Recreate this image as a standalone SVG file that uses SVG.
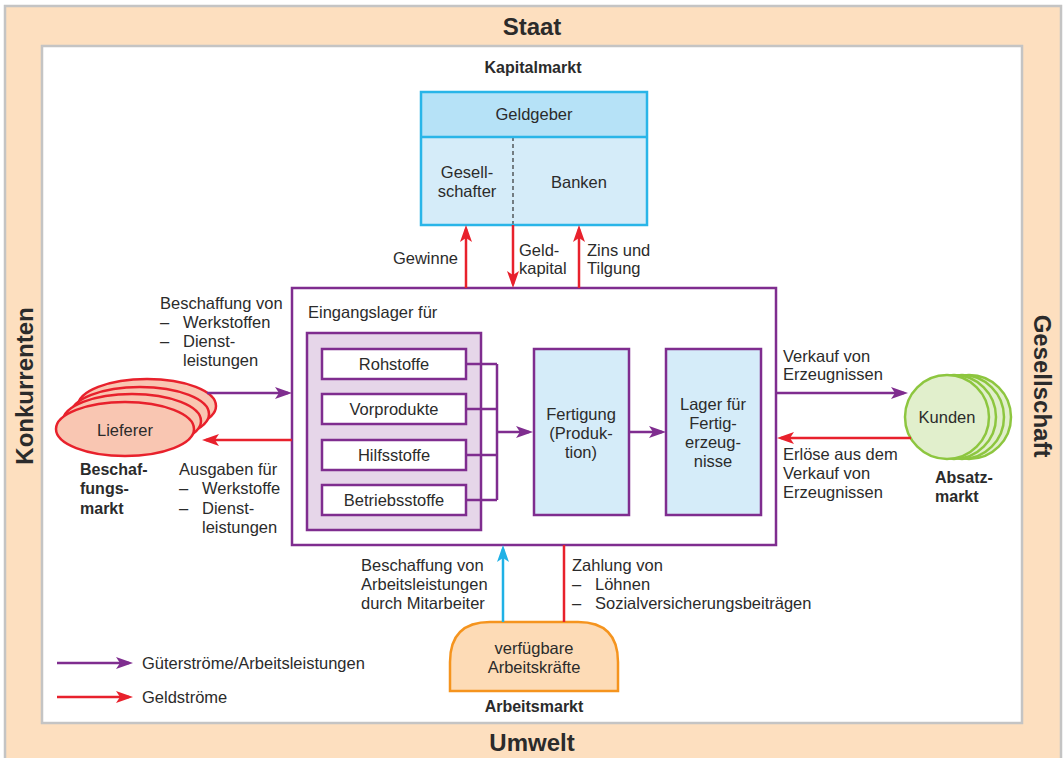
<svg xmlns="http://www.w3.org/2000/svg" width="1063" height="758" viewBox="0 0 1063 758">
<defs>
<style>
text{font-family:"Liberation Sans",Arial,sans-serif;font-size:16.5px;fill:#2b2b2b}
.b{font-weight:bold;font-size:16px}
.big{font-size:24px;font-weight:bold;fill:#2b2b2b}
.m{text-anchor:middle}
.r{text-anchor:end}
.pl{stroke:#7f2d8f;stroke-width:2.5;fill:none}
.rd{stroke:#e8212c;stroke-width:2.5;fill:none}
.bl{stroke:#1fb1e6;stroke-width:2.5;fill:none}
.box{stroke:#7f2d8f;stroke-width:2.5}
</style>
<marker id="ap" markerUnits="userSpaceOnUse" markerWidth="18" markerHeight="14" viewBox="0 0 18 14" refX="13" refY="7" orient="auto"><path d="M0,1 L17,7 L0,13 L4,7 Z" fill="#7f2d8f"/></marker>
<marker id="ar" markerUnits="userSpaceOnUse" markerWidth="18" markerHeight="14" viewBox="0 0 18 14" refX="13" refY="7" orient="auto"><path d="M0,1 L17,7 L0,13 L4,7 Z" fill="#e8212c"/></marker>
<marker id="ab" markerUnits="userSpaceOnUse" markerWidth="18" markerHeight="14" viewBox="0 0 18 14" refX="13" refY="7" orient="auto"><path d="M0,1 L17,7 L0,13 L4,7 Z" fill="#1fb1e6"/></marker>
</defs>

<g id="frame">
<rect x="5" y="6" width="1056" height="770" fill="#fddfbf" stroke="#c4c4c4" stroke-width="2.5"/>
<rect x="42" y="46" width="980" height="677" fill="#ffffff" stroke="#c4c4c4" stroke-width="2.5"/>
<text class="big m" x="532" y="35">Staat</text>
<text class="big m" x="532" y="751">Umwelt</text>
<text class="big m" transform="translate(33,386) rotate(-90)">Konkurrenten</text>
<text class="big m" transform="translate(1034,386) rotate(90)">Gesellschaft</text>
</g>

<g id="kapitalmarkt">
<text class="b m" x="533" y="73">Kapitalmarkt</text>
<rect x="421" y="137" width="226" height="88" fill="#d5ecf9"/>
<rect x="421" y="92" width="226" height="45" fill="#b6e2f7"/>
<line x1="513" y1="137" x2="513" y2="225" stroke="#333" stroke-width="1.2" stroke-dasharray="4,3"/>
<rect x="421" y="92" width="226" height="133" fill="none" stroke="#29b5e8" stroke-width="2.5"/>
<line x1="421" y1="137" x2="647" y2="137" stroke="#29b5e8" stroke-width="2.5"/>
<text class="m" x="534" y="120">Geldgeber</text>
<text class="m" x="467" y="178">Gesell-</text>
<text class="m" x="467" y="197">schafter</text>
<text class="m" x="579" y="188">Banken</text>
</g>

<g id="betrieb">
<rect x="292" y="288" width="484" height="257" fill="#ffffff" class="box"/>
<text x="308" y="318">Eingangslager für</text>
<rect x="307" y="333" width="174" height="197" fill="#e6d6e9" class="box"/>
</g>
<g id="rohstoffe"><rect x="322" y="349" width="144" height="30" fill="#fff" class="box"/><text class="m" x="394" y="370">Rohstoffe</text></g>
<g id="vorprodukte"><rect x="322" y="394" width="144" height="30" fill="#fff" class="box"/><text class="m" x="394" y="415">Vorprodukte</text></g>
<g id="hilfsstoffe"><rect x="322" y="440" width="144" height="30" fill="#fff" class="box"/><text class="m" x="394" y="461">Hilfsstoffe</text></g>
<g id="betriebsstoffe"><rect x="322" y="485" width="144" height="30" fill="#fff" class="box"/><text class="m" x="394" y="506">Betriebsstoffe</text></g>
<g id="fertigung"><rect x="534" y="349" width="95" height="166" fill="#d5ecf9" class="box"/>
<text class="m" x="581" y="420">Fertigung</text><text class="m" x="581" y="439">(Produk-</text><text class="m" x="581" y="458">tion)</text></g>
<g id="lager"><rect x="666" y="349" width="95" height="166" fill="#d5ecf9" class="box"/>
<text class="m" x="713" y="410">Lager für</text><text class="m" x="713" y="429">Fertig-</text><text class="m" x="713" y="448">erzeug-</text><text class="m" x="713" y="467">nisse</text></g>

<g id="lieferer">
<g fill="#f9c6b2" stroke="#e8212c" stroke-width="2.5">
<ellipse cx="147" cy="406" rx="69" ry="27"/>
<ellipse cx="140" cy="414" rx="69" ry="27"/>
<ellipse cx="132" cy="421" rx="69" ry="27"/>
<ellipse cx="125" cy="429" rx="69" ry="27"/>
</g>
<text class="m" x="125" y="436">Lieferer</text>
<text class="b" x="80" y="475">Beschaf-</text>
<text class="b" x="80" y="494">fungs-</text>
<text class="b" x="80" y="514">markt</text>
</g>

<g id="kunden">
<g fill="#e1efcc" stroke="#8dc63f" stroke-width="2.5">
<circle cx="969" cy="417" r="42"/>
<circle cx="962" cy="417" r="42"/>
<circle cx="954" cy="417" r="42"/>
<circle cx="947" cy="417" r="42"/>
</g>
<text class="m" x="947" y="423">Kunden</text>
<text class="b" x="935" y="483">Absatz-</text>
<text class="b" x="935" y="502">markt</text>
</g>

<g id="arbeitsmarkt">
<path d="M450,691 L450,662 Q450,622 490,622 L578,622 Q618,622 618,662 L618,691 Z" fill="#fddbb6" stroke="#f5941e" stroke-width="2.5"/>
<text class="m" x="534" y="654">verfügbare</text>
<text class="m" x="534" y="673">Arbeitskräfte</text>
<text class="b m" x="534" y="712">Arbeitsmarkt</text>
</g>

<g id="connectors">
<line class="rd" x1="466" y1="288" x2="466" y2="229" marker-end="url(#ar)"/>
<line class="rd" x1="513" y1="225" x2="513" y2="284" marker-end="url(#ar)"/>
<line class="rd" x1="579" y1="288" x2="579" y2="229" marker-end="url(#ar)"/>
<path class="pl" d="M466,364 H497 M466,409 H497 M466,455 H497 M466,500 H497 M497,364 V500"/>
<line class="pl" x1="497" y1="432" x2="529" y2="432" marker-end="url(#ap)"/>
<line class="pl" x1="629" y1="432" x2="662" y2="432" marker-end="url(#ap)"/>
<line class="pl" x1="207" y1="393" x2="288" y2="393" marker-end="url(#ap)"/>
<line class="rd" x1="292" y1="440" x2="206" y2="440" marker-end="url(#ar)"/>
<line class="pl" x1="776" y1="393" x2="904" y2="393" marker-end="url(#ap)"/>
<line class="rd" x1="911" y1="438" x2="781" y2="438" marker-end="url(#ar)"/>
<line class="bl" x1="503" y1="622" x2="503" y2="549" marker-end="url(#ab)"/>
<line class="rd" x1="564" y1="545" x2="564" y2="622"/>
<line class="pl" x1="57" y1="663" x2="129" y2="663" marker-end="url(#ap)"/>
<line class="rd" x1="57" y1="697" x2="129" y2="697" marker-end="url(#ar)"/>
</g>

<g id="labels">
<text class="r" x="458" y="264">Gewinne</text>
<text x="519" y="256">Geld-</text>
<text x="519" y="274">kapital</text>
<text x="587" y="256">Zins und</text>
<text x="587" y="274">Tilgung</text>
<text x="160" y="309">Beschaffung von</text>
<text x="160" y="328">–</text><text x="183" y="328">Werkstoffen</text>
<text x="160" y="347">–</text><text x="183" y="347">Dienst-</text>
<text x="183" y="366">leistungen</text>
<text x="179" y="475">Ausgaben für</text>
<text x="179" y="494">–</text><text x="202" y="494">Werkstoffe</text>
<text x="179" y="514">–</text><text x="202" y="514">Dienst-</text>
<text x="202" y="533">leistungen</text>
<text x="783" y="362">Verkauf von</text>
<text x="783" y="380">Erzeugnissen</text>
<text x="783" y="460">Erlöse aus dem</text>
<text x="783" y="479">Verkauf von</text>
<text x="783" y="498">Erzeugnissen</text>
<text x="361" y="571">Beschaffung von</text>
<text x="361" y="590">Arbeitsleistungen</text>
<text x="361" y="609">durch Mitarbeiter</text>
<text x="572" y="571">Zahlung von</text>
<text x="572" y="590">–</text><text x="595" y="590">Löhnen</text>
<text x="572" y="609">–</text><text x="595" y="609">Sozialversicherungsbeiträgen</text>
<text x="142" y="669">Güterströme/Arbeitsleistungen</text>
<text x="142" y="703">Geldströme</text>
</g>
</svg>
